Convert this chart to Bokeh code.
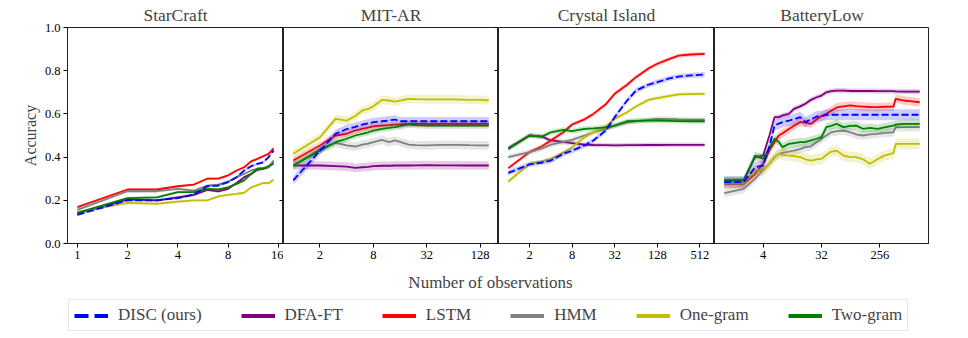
from bokeh.plotting import figure
from bokeh.layouts import column, row
from bokeh.models import (Range1d, FixedTicker, NumeralTickFormatter, LinearAxis,
                          Legend, LegendItem, Label, CustomLabelingPolicy)
from bokeh.embed import file_html
from bokeh.resources import INLINE

FONT = "Liberation Serif"

# ---------------- data ----------------
NAMES = ["DISC (ours)", "DFA-FT", "LSTM", "HMM", "One-gram", "Two-gram"]
COLORS = ["#0000ff", "#800080", "#ff0000", "#808080", "#bfbf00", "#008000"]
TITLES = ["StarCraft", "MIT-AR", "Crystal Island", "BatteryLow"]

SC_X = [1, 2, 3, 4, 5, 6, 7, 8, 9, 10, 11, 12, 13, 14, 15]
SC_DISC = [0.133, 0.200, 0.200, 0.210, 0.227, 0.265, 0.268, 0.284, 0.307, 0.338, 0.358, 0.369, 0.376, 0.400, 0.430]
SC_DFA = [0.140, 0.204, 0.200, 0.214, 0.225, 0.248, 0.241, 0.253, 0.280, 0.307, 0.322, 0.341, 0.346, 0.353, 0.380]
SC_LSTM = [0.168, 0.250, 0.250, 0.265, 0.273, 0.300, 0.300, 0.315, 0.338, 0.353, 0.380, 0.392, 0.404, 0.415, 0.440]
SC_HMM = [0.156, 0.242, 0.242, 0.253, 0.245, 0.268, 0.273, 0.287, 0.307, 0.322, 0.338, 0.346, 0.350, 0.353, 0.384]
SC_ONE = [0.145, 0.188, 0.184, 0.194, 0.200, 0.200, 0.218, 0.225, 0.230, 0.235, 0.260, 0.270, 0.280, 0.279, 0.295]
SC_TWO = [0.142, 0.210, 0.214, 0.238, 0.238, 0.253, 0.250, 0.260, 0.276, 0.292, 0.322, 0.346, 0.346, 0.358, 0.369]
SC_BAND = [0.006, 0.006, 0.006, 0.006, 0.006, 0.006]

MIT_X = [1, 2, 3, 4, 5, 6, 7, 8, 10, 12, 14, 16, 20, 24, 32, 48, 64, 96, 128, 160]
MIT_DISC = [0.292, 0.430, 0.508, 0.530, 0.540, 0.550, 0.556, 0.562, 0.566, 0.570, 0.574, 0.566, 0.566, 0.566, 0.566, 0.566, 0.566, 0.566, 0.566, 0.566]
MIT_DFA = [0.361, 0.361, 0.358, 0.356, 0.350, 0.353, 0.355, 0.358, 0.360, 0.360, 0.361, 0.361, 0.361, 0.362, 0.363, 0.362, 0.362, 0.361, 0.361, 0.361]
MIT_LSTM = [0.384, 0.454, 0.500, 0.508, 0.523, 0.531, 0.537, 0.542, 0.546, 0.548, 0.550, 0.551, 0.554, 0.554, 0.554, 0.554, 0.554, 0.554, 0.554, 0.554]
MIT_HMM = [0.361, 0.438, 0.466, 0.454, 0.449, 0.458, 0.462, 0.469, 0.480, 0.469, 0.477, 0.470, 0.458, 0.455, 0.454, 0.457, 0.457, 0.455, 0.454, 0.454]
MIT_ONE = [0.415, 0.492, 0.577, 0.569, 0.590, 0.616, 0.623, 0.635, 0.665, 0.662, 0.657, 0.662, 0.670, 0.668, 0.667, 0.667, 0.667, 0.665, 0.665, 0.662]
MIT_TWO = [0.361, 0.430, 0.469, 0.485, 0.500, 0.508, 0.515, 0.523, 0.531, 0.535, 0.539, 0.543, 0.551, 0.548, 0.546, 0.546, 0.546, 0.546, 0.546, 0.546]
MIT_BAND = [0.020, 0.020, 0.015, 0.020, 0.020, 0.015]

CI_X = [1, 2, 3, 4, 6, 8, 12, 16, 24, 32, 48, 64, 96, 128, 192, 256, 384, 600]
CI_DISC = [0.327, 0.366, 0.375, 0.384, 0.415, 0.430, 0.454, 0.477, 0.523, 0.585, 0.662, 0.708, 0.735, 0.747, 0.765, 0.773, 0.778, 0.782]
CI_DFA = [0.441, 0.500, 0.495, 0.477, 0.470, 0.465, 0.458, 0.456, 0.455, 0.454, 0.455, 0.455, 0.456, 0.456, 0.457, 0.457, 0.457, 0.457]
CI_LSTM = [0.349, 0.423, 0.450, 0.477, 0.515, 0.551, 0.575, 0.600, 0.645, 0.693, 0.735, 0.770, 0.810, 0.832, 0.855, 0.870, 0.875, 0.878]
CI_HMM = [0.400, 0.423, 0.440, 0.458, 0.470, 0.480, 0.500, 0.515, 0.530, 0.546, 0.560, 0.566, 0.572, 0.577, 0.576, 0.574, 0.573, 0.573]
CI_ONE = [0.287, 0.369, 0.380, 0.392, 0.420, 0.446, 0.492, 0.515, 0.542, 0.577, 0.608, 0.634, 0.665, 0.673, 0.683, 0.690, 0.692, 0.693]
CI_TWO = [0.438, 0.500, 0.495, 0.515, 0.526, 0.520, 0.531, 0.533, 0.538, 0.546, 0.566, 0.568, 0.569, 0.569, 0.568, 0.567, 0.566, 0.566]
CI_BAND = [0.012, 0.010, 0.010, 0.012, 0.010, 0.012]

BL_X = [1, 2, 3, 4, 5, 6, 7, 8, 10, 12, 15, 18, 22, 27, 32, 38, 45, 55, 70, 90, 110, 140, 180, 235, 300, 415, 450, 600, 800, 1060]
BL_DISC = [0.284, 0.284, 0.353, 0.361, 0.450, 0.546, 0.555, 0.562, 0.569, 0.575, 0.585, 0.562, 0.575, 0.588, 0.590, 0.596, 0.596, 0.596, 0.596, 0.596, 0.596, 0.596, 0.596, 0.596, 0.596, 0.596, 0.596, 0.596, 0.596, 0.596]
BL_DFA = [0.292, 0.292, 0.400, 0.407, 0.500, 0.585, 0.585, 0.593, 0.600, 0.623, 0.635, 0.647, 0.665, 0.677, 0.685, 0.700, 0.705, 0.708, 0.708, 0.706, 0.706, 0.706, 0.706, 0.705, 0.705, 0.705, 0.704, 0.703, 0.703, 0.703]
BL_LSTM = [0.276, 0.276, 0.320, 0.370, 0.430, 0.470, 0.500, 0.510, 0.530, 0.545, 0.562, 0.560, 0.554, 0.575, 0.590, 0.600, 0.615, 0.630, 0.635, 0.639, 0.636, 0.634, 0.632, 0.631, 0.633, 0.634, 0.670, 0.662, 0.658, 0.654]
BL_HMM = [0.233, 0.253, 0.300, 0.340, 0.370, 0.400, 0.415, 0.420, 0.425, 0.430, 0.438, 0.446, 0.450, 0.470, 0.485, 0.500, 0.515, 0.520, 0.523, 0.515, 0.505, 0.500, 0.505, 0.508, 0.512, 0.515, 0.539, 0.539, 0.539, 0.539]
BL_ONE = [0.279, 0.279, 0.338, 0.338, 0.370, 0.400, 0.415, 0.410, 0.407, 0.405, 0.400, 0.390, 0.384, 0.390, 0.392, 0.410, 0.425, 0.430, 0.407, 0.400, 0.400, 0.390, 0.369, 0.390, 0.407, 0.418, 0.461, 0.461, 0.461, 0.461]
BL_TWO = [0.292, 0.292, 0.407, 0.392, 0.440, 0.485, 0.470, 0.446, 0.461, 0.465, 0.469, 0.470, 0.477, 0.485, 0.492, 0.539, 0.545, 0.554, 0.539, 0.545, 0.546, 0.531, 0.535, 0.531, 0.538, 0.546, 0.550, 0.554, 0.554, 0.554]
BL_BAND = [0.025, 0.012, 0.020, 0.020, 0.025, 0.020]

PANELS = [
    (SC_X, [SC_DISC, SC_DFA, SC_LSTM, SC_HMM, SC_ONE, SC_TWO], SC_BAND, [1, 2, 4, 8, 16], (0.873, 17.2)),
    (MIT_X, [MIT_DISC, MIT_DFA, MIT_LSTM, MIT_HMM, MIT_ONE, MIT_TWO], MIT_BAND, [2, 8, 32, 128], (0.776, 206)),
    (CI_X, [CI_DISC, CI_DFA, CI_LSTM, CI_HMM, CI_ONE, CI_TWO], CI_BAND, [2, 8, 32, 128, 512], (0.727, 826)),
    (BL_X, [BL_DISC, BL_DFA, BL_LSTM, BL_HMM, BL_ONE, BL_TWO], BL_BAND, [4, 32, 256], (0.707, 1500)),
]
Y_TICKS = [0.0, 0.2, 0.4, 0.6, 0.8, 1.0]
NAN = float("nan")

FRAME_W = [216, 215, 216, 215]
DRAW_ORDER = [1, 2, 3, 4, 5, 0]

no_labels = CustomLabelingPolicy(code="""
for (const i of Array.from(indices)) { indices.unset(i) }
return indices
""")

figs = []
for i, (xs, series, band, xticks, xr) in enumerate(PANELS):
    p = figure(x_axis_type="log", x_range=Range1d(*xr), y_range=Range1d(0, 1),
               frame_width=FRAME_W[i], frame_height=216,
               min_border_left=67 if i == 0 else 0, min_border_right=0,
               min_border_top=27, min_border_bottom=0,
               output_backend="svg", toolbar_location=None)
    p.title.text = TITLES[i]
    p.title.text_font = FONT
    p.title.text_font_size = "17.5px"
    p.title.text_font_style = "normal"
    p.title.align = "center"
    p.title.standoff = 5
    p.grid.visible = False
    p.outline_line_color = "#222222"
    p.background_fill_color = "white"
    p.border_fill_color = "white"

    xa = p.xaxis[0]
    xa.ticker = FixedTicker(ticks=xticks)
    xa.formatter = NumeralTickFormatter(format="0")
    xa.major_tick_in = 0
    xa.major_tick_out = 4
    xa.minor_tick_line_color = None
    xa.major_label_standoff = 3
    xa.major_label_text_font = FONT
    xa.major_label_text_font_size = "12.5px"
    xa.major_label_text_color = "black"
    xa.axis_line_color = "#222222"

    ya = p.yaxis[0]
    if i == 0:
        ya.ticker = FixedTicker(ticks=Y_TICKS)
        ya.formatter = NumeralTickFormatter(format="0.0")
        ya.major_tick_in = 0
        ya.major_tick_out = 4
        ya.minor_tick_line_color = None
        ya.major_label_standoff = 3
        ya.major_label_text_font = FONT
        ya.major_label_text_font_size = "12.5px"
        ya.major_label_text_color = "black"
        ya.axis_label = "Accuracy"
        ya.axis_label_text_font = FONT
        ya.axis_label_text_font_size = "16px"
        ya.axis_label_text_font_style = "normal"
        ya.axis_label_standoff = 3
        ya.axis_line_color = "#222222"
    else:
        ya.visible = False

    if i < 3:
        ra = LinearAxis(ticker=FixedTicker(ticks=Y_TICKS), major_tick_in=4, major_tick_out=0,
                        minor_tick_line_color=None, major_label_policy=no_labels,
                        major_label_text_font_size="0px",
                        major_label_standoff=0, axis_line_color=None)
        p.add_layout(ra, "right")

    for k in DRAW_ORDER:
        ys = series[k]
        lo = [v - band[k] for v in ys]
        hi = [v + band[k] for v in ys]
        p.varea(x=xs, y1=lo, y2=hi, fill_color=COLORS[k], fill_alpha=0.2)
        p.line(x=xs, y=ys, line_color=COLORS[k], line_width=1.8,
               line_dash="7 3" if k == 0 else "solid")
    figs.append(p)

# bottom: common x label + legend
leg = figure(width=950, height=75, x_range=Range1d(0, 1), y_range=Range1d(0, 1),
             x_axis_location=None, y_axis_location=None, min_border=0,
             output_backend="svg", toolbar_location=None)
leg.grid.visible = False
leg.outline_line_color = None
items = []
for k in range(6):
    r = leg.line(x=[NAN, NAN], y=[NAN, NAN], line_color=COLORS[k], line_width=4,
                 line_dash="14 6" if k == 0 else "solid")
    items.append(LegendItem(label=NAMES[k], renderers=[r]))
legend = Legend(items=items, orientation="horizontal", location=(68, 5),
                glyph_width=34, glyph_height=19, label_height=19, label_standoff=10,
                spacing=39, padding=5, margin=0,
                label_text_font=FONT, label_text_font_size="17px",
                border_line_color="#cccccc", border_line_width=1,
                background_fill_color="white", background_fill_alpha=1)
leg.add_layout(legend)
leg.add_layout(Label(x=490, y=54, x_units="screen", y_units="screen",
                     text="Number of observations", text_align="center",
                     text_baseline="middle", text_font=FONT, text_font_size="17px"))

layout = column(row(*figs), leg)
open("out.html", "w").write(file_html(layout, INLINE))
